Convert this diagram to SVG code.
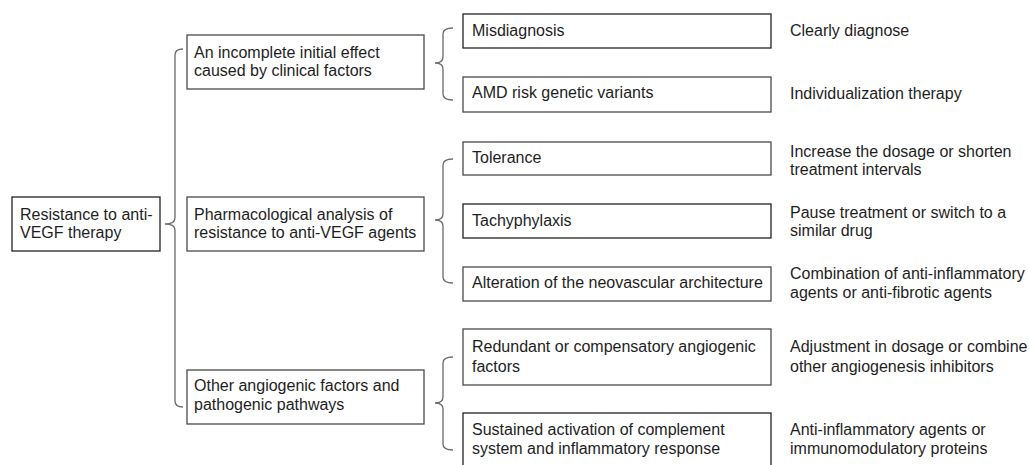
<svg xmlns="http://www.w3.org/2000/svg" width="1029" height="465" viewBox="0 0 1029 465">
<style>
text{font-family:"Liberation Sans",Arial,sans-serif;font-size:16px;fill:#1e1e1e}
.box{fill:#fff;stroke:#4a4a4a;stroke-width:1.3}
.dark{stroke:#222}
.br{fill:none;stroke:#6a6a6a;stroke-width:1.3}
</style>
<rect width="1029" height="465" fill="#fff"/>
<g id="connectors">
<path class="br" d="M183,49 Q175,49 175,55 L175,218 Q175,224 165,224 Q175,224 175,230 L175,401 Q175,407 183,407"/>
<path class="br" d="M453,28 Q443,28 443,34 L443,57 Q443,63 435,63 Q443,63 443,69 L443,94 Q443,100 453,100"/>
<path class="br" d="M453,159 Q443,159 443,165 L443,214 Q443,220 435,220 Q443,220 443,226 L443,277 Q443,283 453,283"/>
<path class="br" d="M453,357 Q443,357 443,363 L443,397 Q443,403 435,403 Q443,403 443,409 L443,444 Q443,450 453,450"/>
</g>
<g id="root"><rect class="box dark" x="12" y="197" width="148" height="54"/><text x="20" y="220">Resistance to anti-</text><text x="20" y="238">VEGF therapy</text></g>
<g id="n1"><rect class="box" x="187" y="35" width="237" height="54"/><text x="194" y="58">An incomplete initial effect</text><text x="194" y="76">caused by clinical factors</text></g>
<g id="n2"><rect class="box" x="187" y="197" width="237" height="54"/><text x="194" y="220">Pharmacological analysis of</text><text x="194" y="238">resistance to anti-VEGF agents</text></g>
<g id="n3"><rect class="box" x="187" y="370" width="237" height="54"/><text x="194" y="391">Other angiogenic factors and</text><text x="194" y="410">pathogenic pathways</text></g>
<g id="m1"><rect class="box dark" x="463" y="14" width="308" height="34"/><text x="472" y="36">Misdiagnosis</text></g>
<g id="m2"><rect class="box" x="463" y="77" width="308" height="35"/><text x="472" y="98">AMD risk genetic variants</text></g>
<g id="m3"><rect class="box" x="463" y="142" width="308" height="33"/><text x="472" y="163">Tolerance</text></g>
<g id="m4"><rect class="box dark" x="463" y="204" width="308" height="34"/><text x="472" y="226">Tachyphylaxis</text></g>
<g id="m5"><rect class="box" x="463" y="267" width="308" height="34"/><text x="472" y="288">Alteration of the neovascular architecture</text></g>
<g id="m6"><rect class="box" x="463" y="329" width="308" height="56"/><text x="472" y="352">Redundant or compensatory angiogenic</text><text x="472" y="372">factors</text></g>
<g id="m7"><rect class="box dark" x="463" y="413" width="308" height="60"/><text x="472" y="435">Sustained activation of complement</text><text x="472" y="454">system and inflammatory response</text></g>
<g id="r1"><text x="790" y="36">Clearly diagnose</text></g>
<g id="r2"><text x="790" y="99">Individualization therapy</text></g>
<g id="r3"><text x="790" y="157">Increase the dosage or shorten</text><text x="790" y="175">treatment intervals</text></g>
<g id="r4"><text x="790" y="218">Pause treatment or switch to a</text><text x="790" y="236">similar drug</text></g>
<g id="r5"><text x="790" y="279">Combination of anti-inflammatory</text><text x="790" y="298">agents or anti-fibrotic agents</text></g>
<g id="r6"><text x="790" y="352">Adjustment in dosage or combine</text><text x="790" y="372">other angiogenesis inhibitors</text></g>
<g id="r7"><text x="790" y="435">Anti-inflammatory agents or</text><text x="790" y="454">immunomodulatory proteins</text></g>
</svg>
